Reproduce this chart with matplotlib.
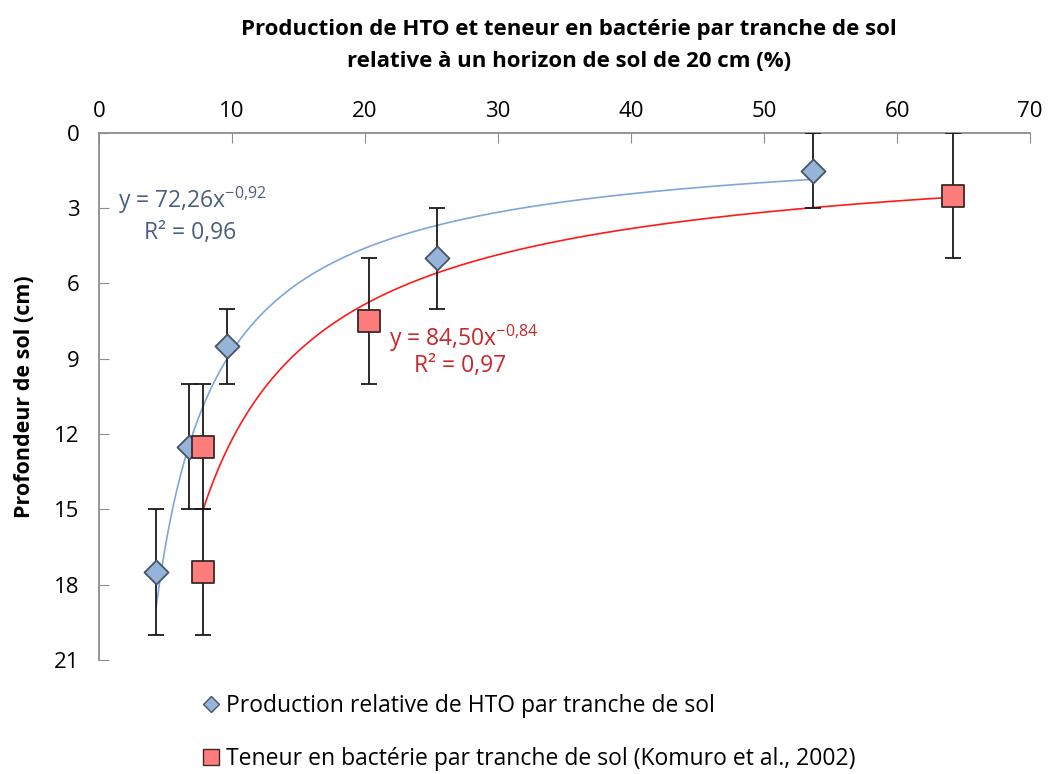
import numpy as np
import matplotlib
matplotlib.use("Agg")
import matplotlib.pyplot as plt
from matplotlib import font_manager
from matplotlib.lines import Line2D

# police proche de Calibri
names = {f.name for f in font_manager.fontManager.ttflist}
font = "Liberation Sans Narrow" if "Liberation Sans Narrow" in names else "Open Sans"
plt.rcParams["font.family"] = [font, "DejaVu Sans"]
plt.rcParams["mathtext.fontset"] = "custom"
plt.rcParams["mathtext.rm"] = font
plt.rcParams["mathtext.default"] = "regular"

# données
hto_x = [4.3, 6.8, 9.6, 25.4, 53.7]
hto_y = [17.5, 12.5, 8.5, 5.0, 1.5]
hto_lo = [15, 10, 7, 3, 0]
hto_hi = [20, 15, 10, 7, 3]

bac_x = [7.8, 7.8, 20.3, 64.2]
bac_y = [17.5, 12.5, 7.5, 2.5]
bac_lo = [15, 10, 5, 0]
bac_hi = [20, 15, 10, 5]

# courbes de tendance (puissance)
hto_a, hto_b = 72.26, -0.92
bac_a, bac_b = 84.50, -0.84

fig = plt.figure(figsize=(10.58, 7.74), dpi=100)
ax = fig.add_axes([0.0936, 0.1473, 0.88, 0.681])

blue_line = "#7ea6d8"
red_line = "#ff1a1a"

xs = np.linspace(min(hto_x), max(hto_x), 300)
ax.plot(xs, hto_a * xs ** hto_b, color=blue_line, lw=1.2, zorder=2)
xs = np.linspace(min(bac_x), max(bac_x), 300)
ax.plot(xs, bac_a * xs ** bac_b, color=red_line, lw=1.2, zorder=2)

hto_err = [np.array(hto_y) - np.array(hto_lo), np.array(hto_hi) - np.array(hto_y)]
bac_err = [np.array(bac_y) - np.array(bac_lo), np.array(bac_hi) - np.array(bac_y)]

ax.errorbar(hto_x, hto_y, yerr=hto_err, fmt="none", ecolor="#1a1a1a",
            elinewidth=1.3, capsize=6, capthick=1.3, zorder=3)
ax.errorbar(bac_x, bac_y, yerr=bac_err, fmt="none", ecolor="#1a1a1a",
            elinewidth=1.3, capsize=6, capthick=1.3, zorder=3)

ax.scatter(hto_x, hto_y, marker="D", s=150, facecolor="#94b4d9",
           edgecolor="#4a5464", linewidth=1.3, zorder=4)
ax.scatter(bac_x, bac_y, marker="s", s=260, facecolor="#ff7c7c",
           edgecolor="#3a2a2a", linewidth=1.3, zorder=4)

ax.set_xlim(0, 70)
ax.set_ylim(21, 0)
ax.set_xticks(range(0, 71, 10))
ax.set_yticks(range(0, 22, 3))
ax.xaxis.tick_top()
ax.tick_params(axis="both", direction="in", length=7, color="#8c8c8c",
               labelsize=16, pad=8)
ax.tick_params(axis="y", pad=14)
for s in ["right", "bottom"]:
    ax.spines[s].set_visible(False)
for s in ["left", "top"]:
    ax.spines[s].set_color("#8c8c8c")
    ax.spines[s].set_linewidth(1.3)

fig.text(0.538, 0.962, "Production de HTO et teneur en bactérie par tranche de sol",
         ha="center", va="center", fontsize=16, fontweight="bold")
fig.text(0.538, 0.921, "relative à un horizon de sol de 20 cm (%)",
         ha="center", va="center", fontsize=16, fontweight="bold")
ax.set_ylabel("Profondeur de sol (cm)", fontsize=15.5, fontweight="bold", labelpad=14)

ax.text(1.4, 2.7, r"y = 72,26x$^{-0{,}92}$", color="#4a5f80", fontsize=16.5, va="center")
ax.text(3.4, 4.0, "R² = 0,96", color="#4a5f80", fontsize=16.5, va="center")
ax.text(21.8, 8.2, r"y = 84,50x$^{-0{,}84}$", color="#c8282c", fontsize=16.5, va="center")
ax.text(23.7, 9.3, "R² = 0,97", color="#c8282c", fontsize=16.5, va="center")

handles = [
    Line2D([], [], marker="D", ls="none", markersize=8, markerfacecolor="#94b4d9",
           markeredgecolor="#4a5464"),
    Line2D([], [], marker="s", ls="none", markersize=12, markerfacecolor="#ff7c7c",
           markeredgecolor="#3a2a2a"),
]
labels = ["Production relative de HTO par tranche de sol",
          "Teneur en bactérie par tranche de sol (Komuro et al., 2002)"]
fig.legend(handles, labels, loc="upper left", bbox_to_anchor=(0.18, 0.115),
           frameon=False, fontsize=16.5, handletextpad=0.15, labelspacing=1.25,
           handlelength=1.0, borderaxespad=0)

fig.savefig("out.png", dpi=100)
